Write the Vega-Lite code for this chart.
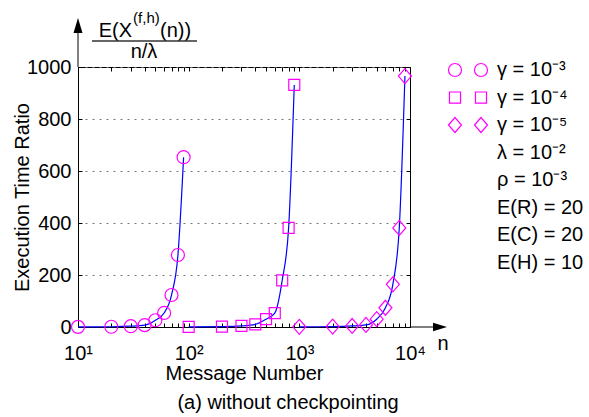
{
  "$schema": "https://vega.github.io/schema/vega-lite/v6.json",
  "width": 332,
  "height": 260,
  "autosize": {"type": "none"},
  "padding": {"left": 78, "top": 67, "right": 179, "bottom": 90},
  "background": "white",
  "title": {"text": "(a) without checkpointing", "orient": "bottom", "anchor": "middle", "dx": 44, "offset": 10, "fontSize": 20, "fontWeight": "normal", "font": "Liberation Sans", "color": "black"},
  "data": {"values": [
    {"series": "γ = 10⁻³", "n": 10, "ratio": 0.5},
    {"series": "γ = 10⁻³", "n": 20, "ratio": 1},
    {"series": "γ = 10⁻³", "n": 30, "ratio": 3},
    {"series": "γ = 10⁻³", "n": 40, "ratio": 7},
    {"series": "γ = 10⁻³", "n": 50, "ratio": 26},
    {"series": "γ = 10⁻³", "n": 60, "ratio": 54},
    {"series": "γ = 10⁻³", "n": 70, "ratio": 123},
    {"series": "γ = 10⁻³", "n": 80, "ratio": 277},
    {"series": "γ = 10⁻³", "n": 90, "ratio": 653},
    {"series": "γ = 10⁻⁴", "n": 100, "ratio": 0.5},
    {"series": "γ = 10⁻⁴", "n": 200, "ratio": 1.5},
    {"series": "γ = 10⁻⁴", "n": 300, "ratio": 4},
    {"series": "γ = 10⁻⁴", "n": 400, "ratio": 10},
    {"series": "γ = 10⁻⁴", "n": 500, "ratio": 30},
    {"series": "γ = 10⁻⁴", "n": 600, "ratio": 53},
    {"series": "γ = 10⁻⁴", "n": 700, "ratio": 179},
    {"series": "γ = 10⁻⁴", "n": 800, "ratio": 381},
    {"series": "γ = 10⁻⁴", "n": 900, "ratio": 931},
    {"series": "γ = 10⁻⁵", "n": 1000, "ratio": 0.5},
    {"series": "γ = 10⁻⁵", "n": 2000, "ratio": 1.5},
    {"series": "γ = 10⁻⁵", "n": 3000, "ratio": 4},
    {"series": "γ = 10⁻⁵", "n": 4000, "ratio": 8},
    {"series": "γ = 10⁻⁵", "n": 5000, "ratio": 30},
    {"series": "γ = 10⁻⁵", "n": 6000, "ratio": 74},
    {"series": "γ = 10⁻⁵", "n": 7000, "ratio": 164},
    {"series": "γ = 10⁻⁵", "n": 8000, "ratio": 381},
    {"series": "γ = 10⁻⁵", "n": 9000, "ratio": 965}
  ]},
  "resolve": {"axis": {"x": "independent", "y": "independent"}, "scale": {"shape": "independent"}},
  "layer": [
    {
      "mark": {"type": "line", "color": "#0000ff", "strokeWidth": 1.2, "interpolate": "monotone"},
      "encoding": {
        "x": {"field": "n", "type": "quantitative",
          "scale": {"type": "log", "domain": [10, 10000], "nice": false},
          "axis": {"orient": "bottom", "values": [10,20,30,40,50,60,70,80,90,100,200,300,400,500,600,700,800,900,1000,2000,3000,4000,5000,6000,7000,8000,9000,10000],
            "labelExpr": "datum.value == 10 ? '10¹' : datum.value == 100 ? '10²' : datum.value == 1000 ? '10³' : datum.value == 10000 ? '10⁴' : ''",
            "labelOverlap": false, "labelFlush": false, "tickSize": -4, "labelPadding": 20,
            "title": "Message Number", "titlePadding": 0, "grid": false}},
        "y": {"field": "ratio", "type": "quantitative",
          "scale": {"domain": [0, 1000], "nice": false},
          "axis": {"orient": "left", "values": [0,200,400,600,800,1000], "format": "d", "tickSize": -4, "labelPadding": 11,
            "title": "Execution Time Ratio", "titlePadding": -6,
            "grid": true, "gridDash": [2,5], "gridColor": "#777777", "gridWidth": 1}},
        "detail": {"field": "series"}
      }
    },
    {
      "mark": {"type": "point", "filled": false, "color": "#ff00ff", "strokeWidth": 1.2, "opacity": 1},
      "encoding": {
        "x": {"field": "n", "type": "quantitative",
          "axis": {"orient": "top", "values": [10,20,30,40,50,60,70,80,90,100,200,300,400,500,600,700,800,900,1000,2000,3000,4000,5000,6000,7000,8000,9000,10000],
            "labels": false, "domain": false, "tickSize": -4, "title": null, "grid": false}},
        "y": {"field": "ratio", "type": "quantitative",
          "axis": {"orient": "right", "values": [0,200,400,600,800,1000], "labels": false, "domain": false, "tickSize": -4, "title": null, "grid": false}},
        "shape": {"field": "series", "type": "nominal",
          "scale": {"domain": ["γ = 10⁻³", "γ = 10⁻⁴", "γ = 10⁻⁵"],
                    "range": ["circle", "square", "M0,-1.15L1,0L0,1.15L-1,0Z"]},
          "legend": null},
        "size": {"condition": {"test": "datum.series === 'γ = 10⁻⁴'", "value": 121}, "value": 169}
      }
    },
    {
      "mark": {"type": "point", "filled": false, "color": "#ff00ff", "strokeWidth": 1.2, "opacity": 0},
      "encoding": {
        "x": {"field": "n", "type": "quantitative", "axis": null},
        "y": {"field": "ratio", "type": "quantitative", "axis": null},
        "shape": {"field": "series", "type": "nominal",
          "scale": {"domain": ["γ = 10⁻³", "γ = 10⁻⁴", "γ = 10⁻⁵", "λ = 10⁻²", "ρ = 10⁻³", "E(R) = 20", "E(C) = 20", "E(H) = 10"],
                    "range": ["M-3,0A1,1,0,1,1,-1,0A1,1,0,1,1,-3,0ZM1,0A1,1,0,1,1,3,0A1,1,0,1,1,1,0Z",
                              "M-2.85,-0.85h1.7v1.7h-1.7ZM1.15,-0.85h1.7v1.7h-1.7Z",
                              "M-3,0L-2,-1.15L-1,0L-2,1.15ZM1,0L2,-1.15L3,0L2,1.15Z",
                              "M0,0", "M0,0", "M0,0", "M0,0", "M0,0"]},
          "legend": {"orient": "none", "legendX": 380, "legendY": -7, "title": null, "padding": 0,
            "labelFontSize": 20, "labelFont": "Liberation Sans", "labelColor": "black",
            "labelOffset": 19, "symbolOffset": 0, "rowPadding": 7.5, "labelLimit": 220,
            "symbolSize": 169, "symbolOpacity": 1, "symbolStrokeColor": "#ff00ff", "symbolFillColor": "transparent", "symbolStrokeWidth": 1.2}}
      }
    },
    {
      "data": {"values": [{}]},
      "mark": {"type": "rule", "color": "black", "strokeWidth": 1},
      "encoding": {"x": {"datum": 10, "type": "quantitative", "axis": null},
                   "y": {"datum": 1000, "type": "quantitative", "axis": null},
                   "y2": {"datum": 1165}}
    },
    {
      "data": {"values": [{}]},
      "mark": {"type": "rule", "color": "black", "strokeWidth": 1},
      "encoding": {"x": {"datum": 10000, "type": "quantitative", "axis": null},
                   "x2": {"datum": 20000},
                   "y": {"datum": 0, "type": "quantitative", "axis": null}}
    },
    {
      "data": {"values": [{}]},
      "mark": {"type": "point", "shape": "M-0.6,1L0,-1L0.6,1Z", "size": 225, "filled": true, "color": "black", "opacity": 1},
      "encoding": {"x": {"datum": 10, "type": "quantitative", "axis": null},
                   "y": {"datum": 1160, "type": "quantitative", "axis": null}}
    },
    {
      "data": {"values": [{}]},
      "mark": {"type": "point", "shape": "M-1,-0.6L1,0L-1,0.6Z", "size": 196, "filled": true, "color": "black", "opacity": 1},
      "encoding": {"x": {"datum": 18660, "type": "quantitative", "axis": null},
                   "y": {"datum": 0, "type": "quantitative", "axis": null}}
    },
    {
      "data": {"values": [{}]},
      "mark": {"type": "text", "text": "n", "fontSize": 20, "font": "Liberation Sans", "color": "black", "align": "center", "baseline": "middle"},
      "encoding": {"x": {"datum": 19870, "type": "quantitative", "axis": null},
                   "y": {"datum": -65, "type": "quantitative", "axis": null}}
    },
    {
      "data": {"values": [{}]},
      "mark": {"type": "text", "text": "E(X", "fontSize": 20, "font": "Liberation Sans", "color": "black", "align": "right", "baseline": "alphabetic"},
      "encoding": {"x": {"datum": 30.8, "type": "quantitative", "axis": null},
                   "y": {"datum": 1115, "type": "quantitative", "axis": null}}
    },
    {
      "data": {"values": [{}]},
      "mark": {"type": "text", "text": "(f,h)", "fontSize": 15, "font": "Liberation Sans", "color": "black", "align": "left", "baseline": "alphabetic", "dx": 1, "dy": -14},
      "encoding": {"x": {"datum": 30.8, "type": "quantitative", "axis": null},
                   "y": {"datum": 1115, "type": "quantitative", "axis": null}}
    },
    {
      "data": {"values": [{}]},
      "mark": {"type": "text", "text": "(n))", "fontSize": 20, "font": "Liberation Sans", "color": "black", "align": "left", "baseline": "alphabetic", "dx": 28},
      "encoding": {"x": {"datum": 30.8, "type": "quantitative", "axis": null},
                   "y": {"datum": 1115, "type": "quantitative", "axis": null}}
    },
    {
      "data": {"values": [{}]},
      "mark": {"type": "rule", "color": "#333333", "strokeWidth": 1.3},
      "encoding": {"x": {"datum": 13.38, "type": "quantitative", "axis": null},
                   "x2": {"datum": 118.9},
                   "y": {"datum": 1100, "type": "quantitative", "axis": null}}
    },
    {
      "data": {"values": [{}]},
      "mark": {"type": "text", "text": "n/λ", "fontSize": 20, "font": "Liberation Sans", "color": "black", "align": "center", "baseline": "alphabetic"},
      "encoding": {"x": {"datum": 39.5, "type": "quantitative", "axis": null},
                   "y": {"datum": 1034.6, "type": "quantitative", "axis": null}}
    }
  ],
  "config": {
    "font": "Liberation Sans",
    "view": {"stroke": "black", "strokeWidth": 1},
    "axis": {"domainColor": "black", "tickColor": "black", "labelColor": "black", "titleColor": "black",
             "labelFontSize": 20, "titleFontSize": 20, "titleFontWeight": "normal",
             "labelFont": "Liberation Sans", "titleFont": "Liberation Sans", "domainWidth": 1, "tickWidth": 1}
  }
}
